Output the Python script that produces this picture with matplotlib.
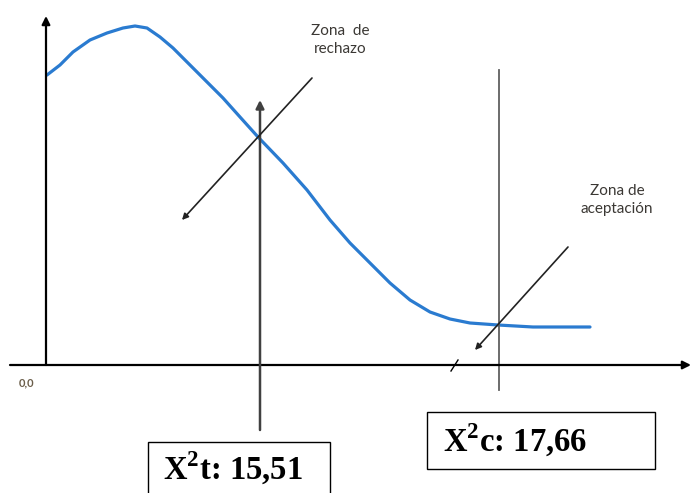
import matplotlib.pyplot as plt
from matplotlib.patches import Rectangle

plt.rcParams["mathtext.fontset"] = "custom"
plt.rcParams["mathtext.rm"] = "Liberation Serif:bold"
plt.rcParams["mathtext.bf"] = "Liberation Serif:bold"

# curva (unidades del esquema, origen en el cruce de los ejes)
curva_x = [1, 14, 27, 44, 61, 77, 89, 101, 114, 127, 144, 161, 177, 194, 212,
           237, 261, 284, 304, 324, 344, 364, 384, 404, 424, 452, 487, 544]
curva_y = [290, 300, 313, 325, 332, 337, 339, 337, 328, 317, 300, 283, 267, 248, 228,
           202, 175, 145, 122, 102, 82, 65, 53, 46, 42, 40, 38, 38]

# valores criticos
x_tabla = 214      # X2 t
x_calc = 453       # X2 c
etiqueta_t = r"X$^{\mathbf{2}}$t: 15,51"
etiqueta_c = r"X$^{\mathbf{2}}$c: 17,66"

fig = plt.figure(figsize=(6.91, 4.93), dpi=100)
ax = fig.add_axes([0, 0, 1, 1])
ax.set_xlim(-46, 645)
ax.set_ylim(-128, 365)
ax.axis("off")

flecha = dict(arrowstyle="-|>", color="black", lw=1.6, mutation_scale=12, shrinkA=0, shrinkB=0)

# ejes
ax.annotate("", xy=(0, 349), xytext=(0, 0), arrowprops=flecha)
ax.annotate("", xy=(645, 0), xytext=(-36, 0), arrowprops=flecha)
ax.plot([405, 412], [-6, 5], color="black", lw=1)
ax.text(-19, -18, "0,0", fontsize=8, fontweight="bold", family="Lato", color="#6b5e4a",
        ha="center", va="center")

# curva
ax.plot(curva_x, curva_y, color="#2a7bd0", lw=2.3, solid_capstyle="round",
        solid_joinstyle="round")

# lineas verticales
ax.annotate("", xy=(x_tabla, 265), xytext=(x_tabla, -65),
            arrowprops=dict(arrowstyle="-|>", color="#404040", lw=1.8, mutation_scale=12,
                            shrinkA=0, shrinkB=0))
ax.plot([x_calc, x_calc], [-25, 295], color="#606060", lw=1.3)

# flechas de zonas
ax.annotate("", xy=(136, 145), xytext=(266, 287),
            arrowprops=dict(arrowstyle="-|>", color="#222222", lw=1.2, mutation_scale=9,
                            shrinkA=0, shrinkB=0))
ax.annotate("", xy=(429, 15), xytext=(522, 118),
            arrowprops=dict(arrowstyle="-|>", color="#222222", lw=1.2, mutation_scale=9,
                            shrinkA=0, shrinkB=0))

ax.text(294, 325, "Zona  de\nrechazo", fontsize=11, family="Lato", color="#3b3834",
        ha="center", va="center", linespacing=1.45)
ax.text(571, 165, "Zona de\naceptación", fontsize=11, family="Lato", color="#3b3834",
        ha="center", va="center", linespacing=1.45)

# cuadros con los valores
ax.add_patch(Rectangle((102, -140), 182, 63, fill=False, ec="black", lw=1))
ax.text(117, -103, etiqueta_t, fontsize=23.5, fontweight="bold", family="Liberation Serif",
        ha="left", va="center")
ax.add_patch(Rectangle((381, -104), 228, 57, fill=False, ec="black", lw=1))
ax.text(397, -75, etiqueta_c, fontsize=23.5, fontweight="bold", family="Liberation Serif",
        ha="left", va="center")

fig.savefig("out.png", dpi=100)
